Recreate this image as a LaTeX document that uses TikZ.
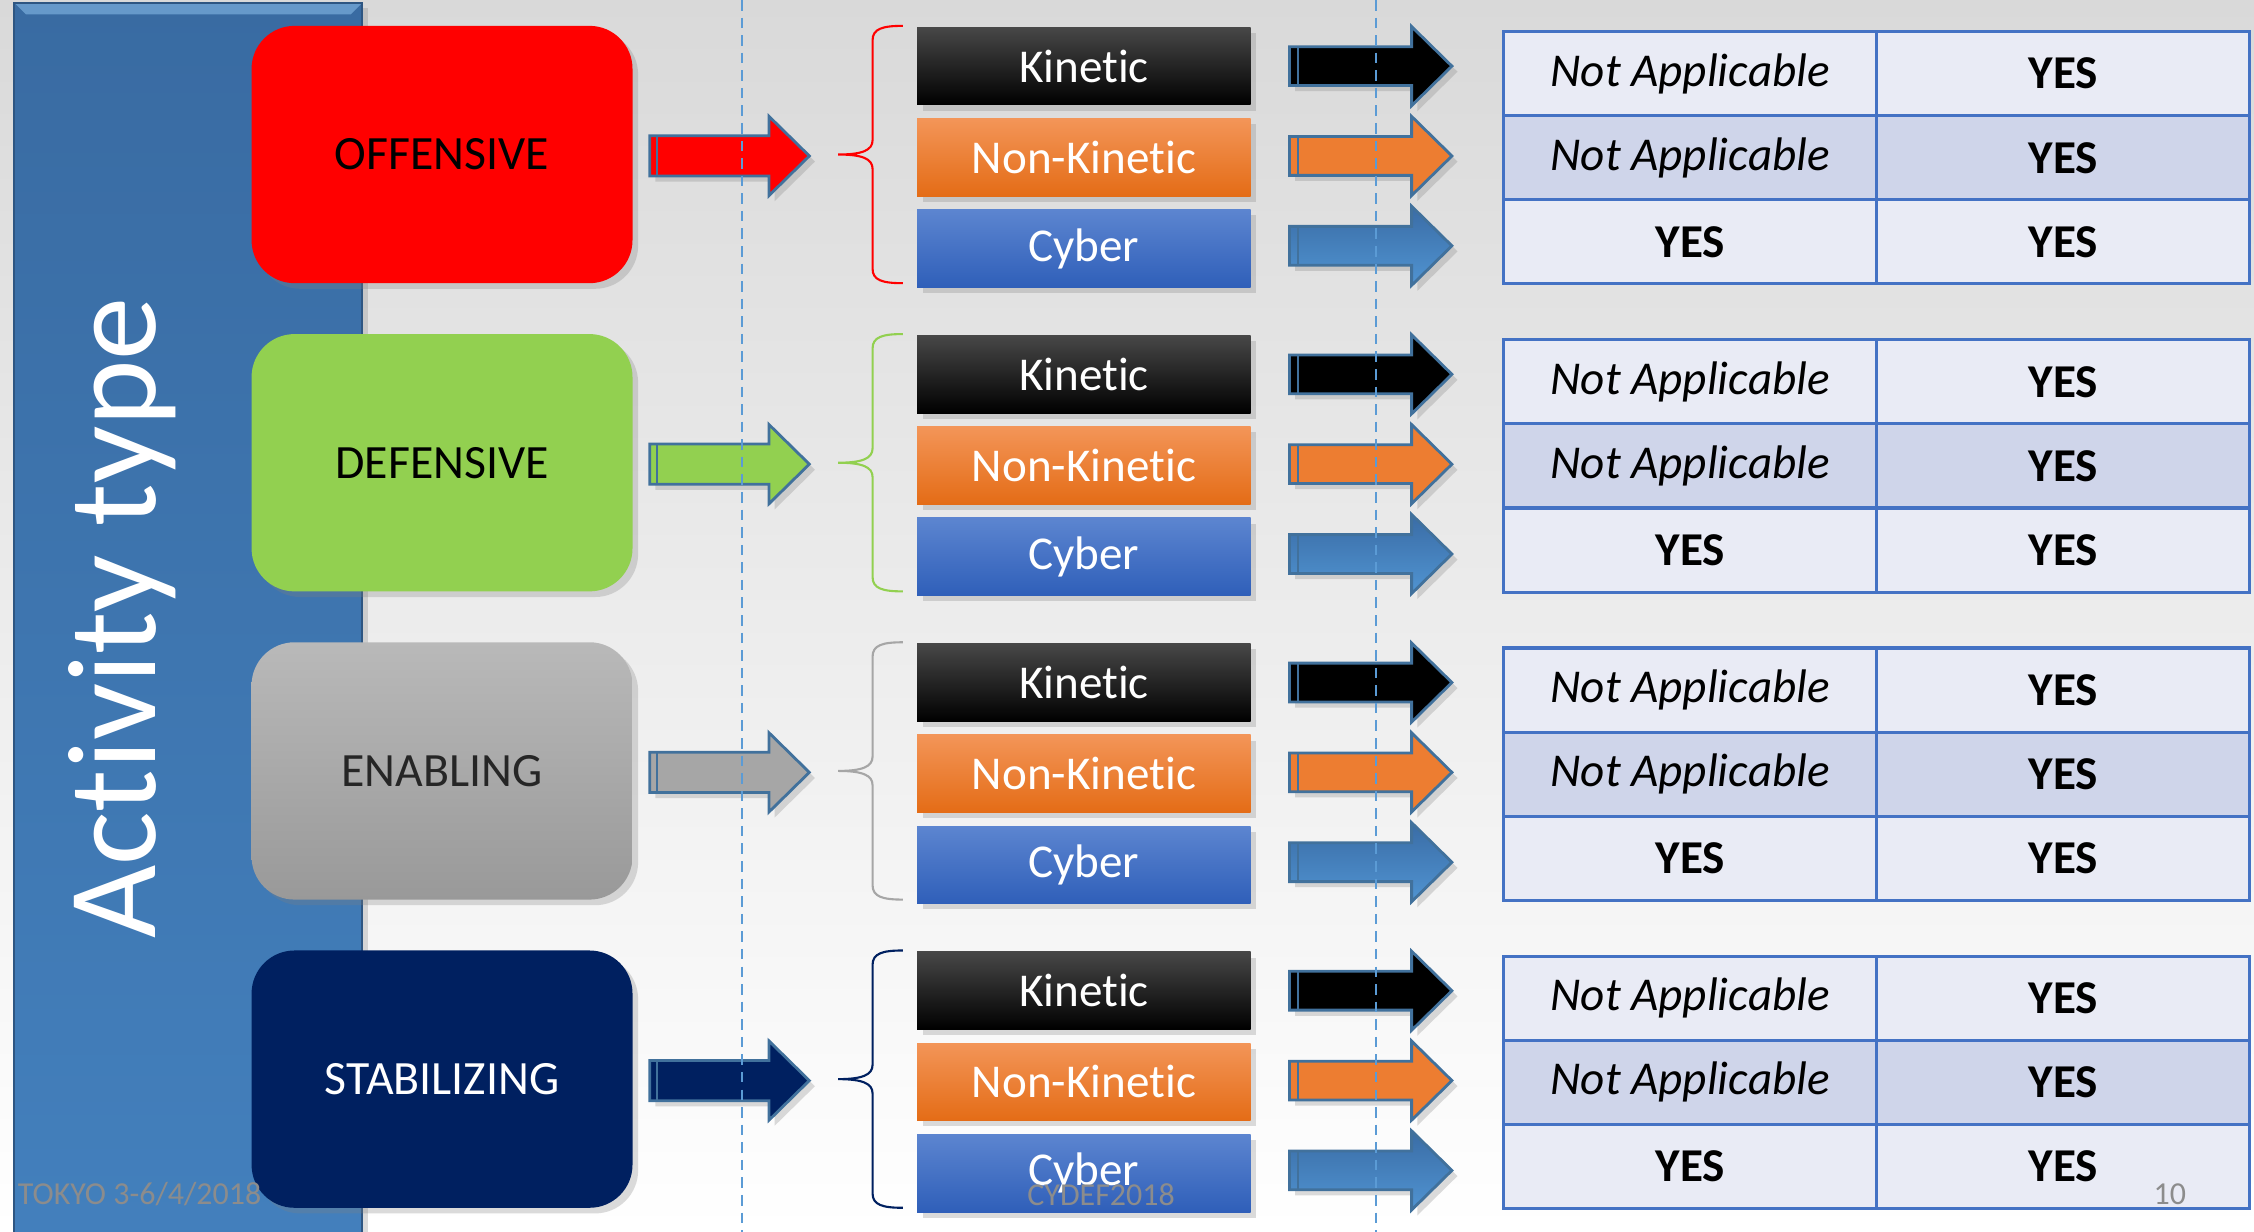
\documentclass[tikz,border=0pt]{standalone}
\usepackage{fontspec}
\setmainfont{Carlito}[Ligatures=NoCommon]
\usetikzlibrary{positioning, shadows, calc}

\definecolor{offred}{HTML}{FF0000}
\definecolor{defgreen}{HTML}{92D050}
\definecolor{enagray}{HTML}{A6A6A6}
\definecolor{stanavy}{HTML}{002060}
\definecolor{tblue}{HTML}{4472C4}
\definecolor{rowlight}{HTML}{E9EBF5}
\definecolor{rowdark}{HTML}{CFD5EA}
\definecolor{arrowedge}{HTML}{41719C}
\definecolor{nkorange}{HTML}{ED7D31}
\definecolor{dashblue}{HTML}{5B9BD5}
\definecolor{footgray}{HTML}{8C8C8C}
\definecolor{barTop}{HTML}{396BA2}
\definecolor{barMid}{HTML}{8CC0EC}
\definecolor{barBot}{HTML}{4380BD}
\definecolor{bggray}{HTML}{D9D9D9}

\newcommand{\dpx}{0.14375mm}

\tikzset{
  softshadow/.style={drop shadow={shadow xshift=1.6pt, shadow yshift=-1.6pt, opacity=0.28}},
  catbox/.style={rounded corners=4.3mm, minimum width=265*\dpx, minimum height=179*\dpx,
    inner sep=0pt, font=\fontsize{13.6}{16}\selectfont, softshadow},
  offcol/.style={fill=offred},
  defcol/.style={fill=defgreen},
  enacol/.style={top color=gray!55, bottom color=gray!80},
  stacol/.style={fill=stanavy},
  subbox/.style={minimum width=232*\dpx, minimum height=54*\dpx, inner sep=0pt,
    text=white, font=\fontsize{13.4}{16}\selectfont, softshadow},
  kinfill/.style={top color=black!72, middle color=black, bottom color=black},
  nonfill/.style={top color={rgb,255:red,243;green,149;blue,88}, middle color=nkorange,
    bottom color={rgb,255:red,228;green,108;blue,22}},
  cybfill/.style={top color={rgb,255:red,92;green,133;blue,208}, middle color=tblue,
    bottom color={rgb,255:red,47;green,95;blue,185}},
  cyberarrow/.style={top color={rgb,255:red,58;green,108;blue,165},
    bottom color={rgb,255:red,80;green,148;blue,210}},
  cell/.style={draw=tblue, line width=0.9pt, minimum width=259.5*\dpx, minimum height=58.5*\dpx,
    inner sep=0pt, outer sep=0pt, font=\fontsize{13.4}{16}\selectfont},
  arrowline/.style={draw=arrowedge, line width=0.8pt, line join=miter},
  dashline/.style={dashblue, line width=0.45pt, dash pattern=on 3pt off 2pt},
  foot/.style={text=footgray, font=\fontsize{9.1}{11}\selectfont, inner sep=0pt},
  pics/bigarrow/.style={code={
    \draw[arrowline, #1, softshadow] (0,-14) -- (83,-14) -- (83,-27.5) -- (111,0)
      -- (83,27.5) -- (83,14) -- (0,14) -- cycle;
    \draw[arrowline] (5,-14) -- (5,14);
  }},
  pics/smallarrow/.style={code={
    \draw[arrowline, #1, softshadow] (0,-13.5) -- (85,-13.5) -- (85,-27.5) -- (113,0)
      -- (85,27.5) -- (85,13.5) -- (0,13.5) -- cycle;
    \draw[arrowline] (6,-13.5) -- (6,13.5);
  }},
  pics/groupbrace/.style={code={
    \draw[#1, line width=0.6pt] (45,-89.5) .. controls (31,-89.5) and (24,-87.5) .. (24,-79.5)
      -- (24,-10) .. controls (24,-3) and (17,0) .. (0,0)
      .. controls (17,0) and (24,3) .. (24,10) -- (24,79.5)
      .. controls (24,87.5) and (31,89.5) .. (45,89.5);
  }}
}

\begin{document}
\begin{tikzpicture}[x=\dpx, y=-\dpx]
  \useasboundingbox (0,0) rectangle (1568,857);
  \shade[top color=bggray, middle color=gray!7, bottom color=white] (0,0) rectangle (1568,857);

  % left bar
  \shade[top color=barTop, middle color=barMid, bottom color=barBot, softshadow]
    (10,2) rectangle (252,880);
  \fill[barMid, opacity=0.55] (10,2) -- (252,2) -- (244,10) -- (18,10) -- cycle;
  \draw[barTop!80!black, line width=0.6pt] (10,880) -- (10,2) -- (252,2) -- (252,880);
  \node[rotate=90, text=white, font=\fontsize{36}{40}\selectfont] (acttype) at (85,430) {Activity type};

  \foreach \g/\name/\lab/\bcol/\tcol in {0/off/OFFENSIVE/offred/black, 1/def/DEFENSIVE/defgreen/black,
      2/ena/ENABLING/enagray/black!85, 3/sta/STABILIZING/stanavy/white}
  {
    \pgfmathsetmacro\dy{214.4*\g}
    \node[catbox, \name col, text=\tcol] (\name) at (307.5,107.5+\dy) {\lab};
    \pic at (452,108.5+\dy) {bigarrow={fill=\bcol}};
    \pic at (583,107.5+\dy) {groupbrace={draw=\bcol}};

    % kinds of action
    \node[subbox, kinfill] (\name kin) at (754,46+\dy) {Kinetic};
    \node[subbox, nonfill, below=1.22mm of \name kin] (\name non) {Non-Kinetic};
    \node[subbox, cybfill, below=1.22mm of \name non] (\name cyb) {Cyber};
    \pic at (897,46+\dy) {smallarrow={fill=black}};
    \pic at (897,108.5+\dy) {smallarrow={fill=nkorange}};
    \pic at (897,171+\dy) {smallarrow={cyberarrow}};

    % table
    \node[cell, fill=rowlight] (\name na1) at (1175.75,51.25+\dy) {\textit{Not Applicable}};
    \node[cell, fill=rowlight, right=0pt of \name na1] (\name yes1) {\textbf{YES}};
    \node[cell, fill=rowdark, below=0pt of \name na1] (\name na2) {\textit{Not Applicable}};
    \node[cell, fill=rowdark, right=0pt of \name na2] (\name yes2) {\textbf{YES}};
    \node[cell, fill=rowlight, below=0pt of \name na2] (\name yes3) {\textbf{YES}};
    \node[cell, fill=rowlight, right=0pt of \name yes3] (\name yes4) {\textbf{YES}};
  }

  \draw[dashline] (516,0) -- (516,857);
  \draw[dashline] (957,0) -- (957,857);

  % footer
  \node[foot, anchor=west] (venue) at (12,831) {TOKYO 3-6/4/2018};
  \node[foot] (conf) at (766,831) {CYDEF2018};
  \node[foot] (page) at (1509.5,831) {10};
\end{tikzpicture}
\end{document}
